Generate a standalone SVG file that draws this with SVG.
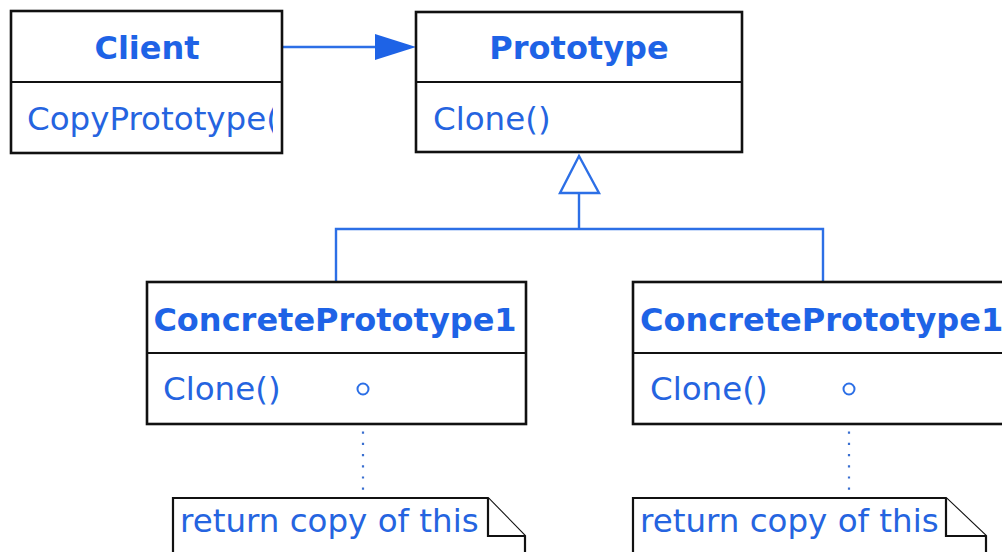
<svg xmlns="http://www.w3.org/2000/svg" width="1002" height="552" viewBox="0 0 1002 552">
<style>
.box{fill:#fff;stroke:#111;stroke-width:2.6}
.div{stroke:#111;stroke-width:2.2}
.title{font-family:"DejaVu Sans",Verdana,sans-serif;font-weight:bold;font-size:32px;fill:#1e63e6}
.txt{font-family:"DejaVu Sans",Verdana,sans-serif;font-size:32.5px;fill:#2564e0}
.conn{stroke:#2c6fe6;stroke-width:2.4;fill:none}
.dot{stroke:#3a6fd0;stroke-width:2.2;stroke-dasharray:2.2 9;fill:none}
.note{fill:#fff;stroke:#111;stroke-width:2.2}
</style>
<defs>
<clipPath id="clipClient"><rect x="12" y="83" width="261" height="68"/></clipPath>
</defs>
<rect width="1002" height="552" fill="#fff"/>
<g id="connectors">
<line class="conn" x1="282" y1="47" x2="378" y2="47"/>
<polygon points="375,34 416,47 375,60" fill="#1e63e6"/>
<polygon points="579,156 599,193 560,193" fill="#fff" stroke="#2c6fe6" stroke-width="2.4"/>
<line class="conn" x1="579" y1="193" x2="579" y2="229"/>
<polyline class="conn" points="336,282 336,229 823,229 823,282"/>
<line class="dot" x1="363" y1="398" x2="363" y2="498"/>
<line class="dot" x1="849" y1="398" x2="849" y2="498"/>
</g>
<g id="client">
<rect class="box" x="11" y="11" width="271" height="142"/>
<line class="div" x1="11" y1="82" x2="282" y2="82"/>
<text class="title" x="147" y="59" text-anchor="middle">Client</text>
<text class="txt" x="27" y="130" clip-path="url(#clipClient)">CopyPrototype()</text>
</g>
<g id="prototype">
<rect class="box" x="416" y="12" width="326" height="140"/>
<line class="div" x1="416" y1="82" x2="742" y2="82"/>
<text class="title" x="579" y="59" text-anchor="middle">Prototype</text>
<text class="txt" x="433" y="130">Clone()</text>
</g>
<g id="concrete1">
<rect class="box" x="147" y="282" width="379" height="142"/>
<line class="div" x1="147" y1="353" x2="526" y2="353"/>
<text class="title" x="335" y="331" text-anchor="middle">ConcretePrototype1</text>
<text class="txt" x="163" y="400">Clone()</text>
<circle cx="363" cy="389" r="5.5" fill="#fff" stroke="#2c6fe6" stroke-width="2"/>
</g>
<g id="concrete2">
<rect class="box" x="633" y="282" width="380" height="142"/>
<line class="div" x1="633" y1="353" x2="1013" y2="353"/>
<text class="title" x="640" y="331">ConcretePrototype1</text>
<text class="txt" x="650" y="400">Clone()</text>
<circle cx="849" cy="389" r="5.5" fill="#fff" stroke="#2c6fe6" stroke-width="2"/>
</g>
<g id="note1">
<path class="note" d="M173,560 L173,498 L488,498 L525,536 L525,560"/>
<path class="note" d="M488,498 L488,536 L525,536" fill="none"/>
<text class="txt" x="180" y="532">return copy of this</text>
</g>
<g id="note2">
<path class="note" d="M633,560 L633,498 L946,498 L986,536 L986,560"/>
<path class="note" d="M946,498 L946,536 L986,536" fill="none"/>
<text class="txt" x="640" y="532">return copy of this</text>
</g>
</svg>
